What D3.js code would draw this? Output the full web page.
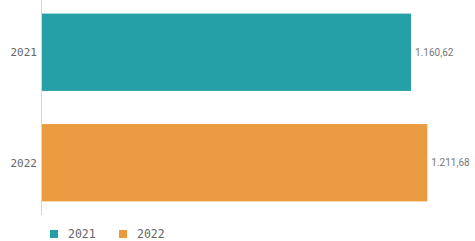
<!DOCTYPE html>
<html>
<head>
<meta charset="utf-8">
<script src="https://cdn.jsdelivr.net/npm/d3@7"></script>
<style>
  body { margin: 0; background: #fff; }
  svg { display: block; }
  .ylab { font-family: "DejaVu Sans Mono", monospace; font-size: 11px; fill: #666; }
  .val { font-family: "Roboto", "DejaVu Sans", sans-serif; font-size: 10px; fill: #777; }
  .leg { font-family: "DejaVu Sans Mono", monospace; font-size: 11.5px; fill: #666; }
</style>
</head>
<body>
<div id="chart"></div>
<script>
var years = ['2021', '2022'];
var values = [1160.62, 1211.68];
var colors = ['#26a0a7', '#eb9b3f'];

var width = 475, height = 241;
var left = 42, plotBottom = 215;

var svg = d3.select('#chart').append('svg')
  .attr('width', width)
  .attr('height', height);

var x = d3.scaleLinear()
  .domain([0, 1360])
  .range([left, left + 1360 * 0.318]);

var y = d3.scaleBand()
  .domain(years)
  .range([0, plotBottom])
  .paddingInner(0.3)
  .paddingOuter(0.123);

var fmt = d3.formatLocale({decimal: ',', thousands: '.', grouping: [3], currency: ['', '']}).format(',.2f');

// bars
svg.append('g').selectAll('rect')
  .data(years)
  .enter().append('rect')
  .attr('x', x(0))
  .attr('y', function(d){ return y(d); })
  .attr('width', function(d, i){ return x(values[i]) - x(0); })
  .attr('height', y.bandwidth())
  .attr('fill', function(d, i){ return colors[i]; });

// axis line
svg.append('line')
  .attr('x1', left - 0.5).attr('x2', left - 0.5)
  .attr('y1', 0).attr('y2', plotBottom)
  .attr('stroke', '#d6d6d6');

// category labels
svg.append('g').selectAll('text')
  .data(years)
  .enter().append('text')
  .attr('class', 'ylab')
  .attr('x', left - 5)
  .attr('y', function(d){ return y(d) + y.bandwidth() / 2; })
  .attr('dy', '0.35em')
  .attr('text-anchor', 'end')
  .text(function(d){ return d; });

// value labels
svg.append('g').selectAll('text')
  .data(years)
  .enter().append('text')
  .attr('class', 'val')
  .attr('x', function(d, i){ return x(values[i]) + 4; })
  .attr('y', function(d){ return y(d) + y.bandwidth() / 2; })
  .attr('dy', '0.35em')
  .text(function(d, i){ return fmt(values[i]); });

// legend
var leg = svg.append('g').selectAll('g')
  .data(years)
  .enter().append('g')
  .attr('transform', function(d, i){ return 'translate(' + (50 + i * 69) + ',230)'; });

leg.append('rect')
  .attr('width', 8).attr('height', 8)
  .attr('fill', function(d, i){ return colors[i]; });

leg.append('text')
  .attr('class', 'leg')
  .attr('x', 18)
  .attr('y', 4)
  .attr('dy', '0.35em')
  .text(function(d){ return d; });
</script>
</body>
</html>
